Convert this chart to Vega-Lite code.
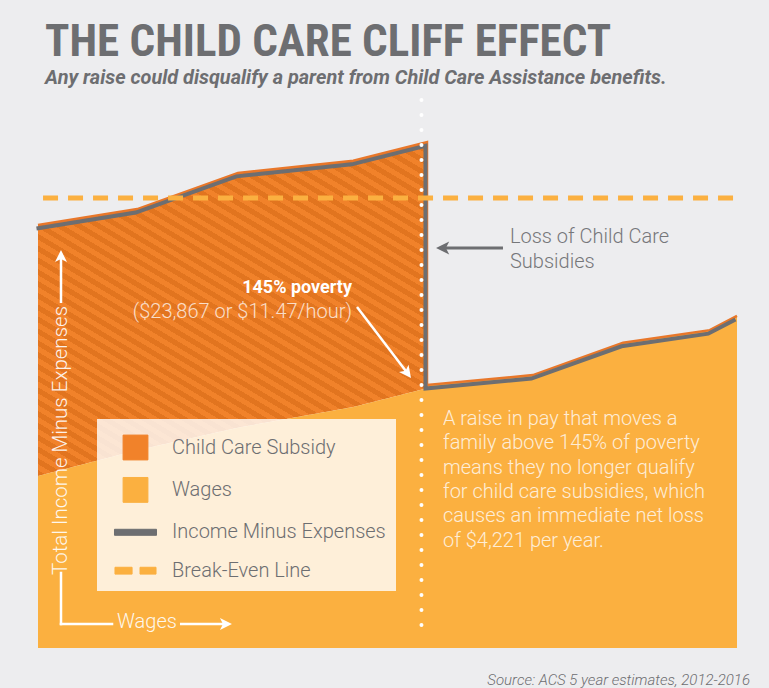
{
  "$schema": "https://vega.github.io/schema/vega-lite/v6.json",
  "width": 699,
  "height": 548,
  "autosize": {"type": "none"},
  "padding": {"left": 38, "top": 100, "right": 32, "bottom": 40},
  "background": "#ededef",
  "title": {
    "text": "THE CHILD CARE CLIFF EFFECT",
    "subtitle": "Any raise could disqualify a parent from Child Care Assistance benefits.",
    "anchor": "start",
    "frame": "group",
    "dx": 7,
    "offset": 10,
    "font": "Liberation Sans Narrow, Roboto Condensed, DejaVu Sans Condensed, sans-serif",
    "fontSize": 45,
    "fontWeight": "bold",
    "color": "#6d6e71",
    "subtitleFont": "Roboto",
    "subtitleFontSize": 19.9,
    "subtitleFontStyle": "italic",
    "subtitleFontWeight": "bold",
    "subtitleColor": "#6d6e71",
    "subtitlePadding": 3
  },
  "data": {
    "values": [
      {"step": 1, "wage": 0, "income": 77.2, "wages": 31.4, "side": "eligible"},
      {"step": 2, "wage": 14.2, "income": 80.1, "wages": 36.1, "side": "eligible"},
      {"step": 3, "wage": 28.6, "income": 86.7, "wages": 40.2, "side": "eligible"},
      {"step": 4, "wage": 45.1, "income": 88.9, "wages": 44.0, "side": "eligible"},
      {"step": 5, "wage": 55.65, "income": 92.3, "wages": 47.4, "side": "eligible"},
      {"step": 6, "wage": 55.65, "income": 48.0, "wages": 48.0, "side": "ineligible"},
      {"step": 7, "wage": 70.8, "income": 49.8, "wages": 49.8, "side": "ineligible"},
      {"step": 8, "wage": 83.7, "income": 55.7, "wages": 55.7, "side": "ineligible"},
      {"step": 9, "wage": 96.1, "income": 58.0, "wages": 58.0, "side": "ineligible"},
      {"step": 10, "wage": 100, "income": 60.6, "wages": 60.6, "side": "ineligible"}
    ]
  },
  "layer": [
    {
      "transform": [{"filter": "datum.side === 'eligible'"}],
      "mark": {"type": "area"},
      "encoding": {
        "x": {"field": "wage", "type": "quantitative", "scale": {"domain": [0, 100], "nice": false, "zero": false}},
        "y": {"field": "income", "type": "quantitative", "stack": null, "scale": {"domain": [0, 100], "nice": false}},
        "y2": {"field": "wages"},
        "color": {
          "datum": "Child Care Subsidy",
          "scale": {
            "domain": ["Child Care Subsidy", "Wages", "Income Minus Expenses", "Break-Even Line"],
            "range": ["#f1822a", "#fbb040", "#6d6e71", "#fbb040"]
          },
          "legend": {
            "orient": "none",
            "legendX": 59,
            "legendY": 319,
            "title": null,
            "fillColor": "rgba(255,255,255,0.8)",
            "padding": 10,
            "symbolSize": 1296,
            "symbolOffset": 10,
            "labelOffset": 18,
            "rowPadding": 9.4,
            "labelFont": "Roboto",
            "labelFontSize": 20,
            "labelFontWeight": 300,
            "labelColor": "#6d6e71",
            "labelLimit": 400,
            "encode": {
              "symbols": {
                "update": {
                  "shape": [
                    {"test": "datum.value === 'Income Minus Expenses'", "value": "M-1.167,-0.167H1.167V0.167H-1.167Z"},
                    {"test": "datum.value === 'Break-Even Line'", "value": "M-1.14,-0.19H-0.19V0.19H-1.14Z M0.25,-0.19H1.14V0.19H0.25Z"},
                    {"value": "M-0.69,-0.69H0.69V0.69H-0.69Z"}
                  ],
                  "fill": [
                    {"test": "datum.value === 'Income Minus Expenses'", "value": {"gradient": "linear", "x1": 0, "y1": 0, "x2": 0, "y2": 1, "stops": [{"offset": 0, "color": "#e8772a"}, {"offset": 0.3, "color": "#e8772a"}, {"offset": 0.3, "color": "#6d6e71"}, {"offset": 1, "color": "#6d6e71"}]}},
                    {"scale": "color", "field": "value"}
                  ],
                  "stroke": [
                    {"test": "datum.value === 'Child Care Subsidy'", "value": "#cf6519"},
                    {"value": "transparent"}
                  ],
                  "strokeWidth": {"value": 1},
                  "strokeDash": {"value": []},
                  "opacity": {"value": 1},
                  "fillOpacity": {"value": 1}
                }
              }
            }
          }
        }
      }
    },
    {
      "transform": [{"filter": "datum.side === 'eligible'"}],
      "mark": {
        "type": "area",
        "fill": {
          "gradient": "linear", "x1": 0, "y1": 1, "x2": 0.7982, "y2": -0.1411,
          "stops": [
            {"offset": 0, "color": "rgba(190,85,5,0.3)"}, {"offset": 0.0104, "color": "rgba(190,85,5,0.3)"}, {"offset": 0.0104, "color": "rgba(190,85,5,0)"}, {"offset": 0.0208, "color": "rgba(190,85,5,0)"},
            {"offset": 0.0208, "color": "rgba(190,85,5,0.3)"}, {"offset": 0.0313, "color": "rgba(190,85,5,0.3)"}, {"offset": 0.0313, "color": "rgba(190,85,5,0)"}, {"offset": 0.0417, "color": "rgba(190,85,5,0)"},
            {"offset": 0.0417, "color": "rgba(190,85,5,0.3)"}, {"offset": 0.0521, "color": "rgba(190,85,5,0.3)"}, {"offset": 0.0521, "color": "rgba(190,85,5,0)"}, {"offset": 0.0625, "color": "rgba(190,85,5,0)"},
            {"offset": 0.0625, "color": "rgba(190,85,5,0.3)"}, {"offset": 0.0729, "color": "rgba(190,85,5,0.3)"}, {"offset": 0.0729, "color": "rgba(190,85,5,0)"}, {"offset": 0.0833, "color": "rgba(190,85,5,0)"},
            {"offset": 0.0833, "color": "rgba(190,85,5,0.3)"}, {"offset": 0.0938, "color": "rgba(190,85,5,0.3)"}, {"offset": 0.0938, "color": "rgba(190,85,5,0)"}, {"offset": 0.1042, "color": "rgba(190,85,5,0)"},
            {"offset": 0.1042, "color": "rgba(190,85,5,0.3)"}, {"offset": 0.1146, "color": "rgba(190,85,5,0.3)"}, {"offset": 0.1146, "color": "rgba(190,85,5,0)"}, {"offset": 0.125, "color": "rgba(190,85,5,0)"},
            {"offset": 0.125, "color": "rgba(190,85,5,0.3)"}, {"offset": 0.1354, "color": "rgba(190,85,5,0.3)"}, {"offset": 0.1354, "color": "rgba(190,85,5,0)"}, {"offset": 0.1458, "color": "rgba(190,85,5,0)"},
            {"offset": 0.1458, "color": "rgba(190,85,5,0.3)"}, {"offset": 0.1563, "color": "rgba(190,85,5,0.3)"}, {"offset": 0.1563, "color": "rgba(190,85,5,0)"}, {"offset": 0.1667, "color": "rgba(190,85,5,0)"},
            {"offset": 0.1667, "color": "rgba(190,85,5,0.3)"}, {"offset": 0.1771, "color": "rgba(190,85,5,0.3)"}, {"offset": 0.1771, "color": "rgba(190,85,5,0)"}, {"offset": 0.1875, "color": "rgba(190,85,5,0)"},
            {"offset": 0.1875, "color": "rgba(190,85,5,0.3)"}, {"offset": 0.1979, "color": "rgba(190,85,5,0.3)"}, {"offset": 0.1979, "color": "rgba(190,85,5,0)"}, {"offset": 0.2083, "color": "rgba(190,85,5,0)"},
            {"offset": 0.2083, "color": "rgba(190,85,5,0.3)"}, {"offset": 0.2188, "color": "rgba(190,85,5,0.3)"}, {"offset": 0.2188, "color": "rgba(190,85,5,0)"}, {"offset": 0.2292, "color": "rgba(190,85,5,0)"},
            {"offset": 0.2292, "color": "rgba(190,85,5,0.3)"}, {"offset": 0.2396, "color": "rgba(190,85,5,0.3)"}, {"offset": 0.2396, "color": "rgba(190,85,5,0)"}, {"offset": 0.25, "color": "rgba(190,85,5,0)"},
            {"offset": 0.25, "color": "rgba(190,85,5,0.3)"}, {"offset": 0.2604, "color": "rgba(190,85,5,0.3)"}, {"offset": 0.2604, "color": "rgba(190,85,5,0)"}, {"offset": 0.2708, "color": "rgba(190,85,5,0)"},
            {"offset": 0.2708, "color": "rgba(190,85,5,0.3)"}, {"offset": 0.2813, "color": "rgba(190,85,5,0.3)"}, {"offset": 0.2813, "color": "rgba(190,85,5,0)"}, {"offset": 0.2917, "color": "rgba(190,85,5,0)"},
            {"offset": 0.2917, "color": "rgba(190,85,5,0.3)"}, {"offset": 0.3021, "color": "rgba(190,85,5,0.3)"}, {"offset": 0.3021, "color": "rgba(190,85,5,0)"}, {"offset": 0.3125, "color": "rgba(190,85,5,0)"},
            {"offset": 0.3125, "color": "rgba(190,85,5,0.3)"}, {"offset": 0.3229, "color": "rgba(190,85,5,0.3)"}, {"offset": 0.3229, "color": "rgba(190,85,5,0)"}, {"offset": 0.3333, "color": "rgba(190,85,5,0)"},
            {"offset": 0.3333, "color": "rgba(190,85,5,0.3)"}, {"offset": 0.3438, "color": "rgba(190,85,5,0.3)"}, {"offset": 0.3438, "color": "rgba(190,85,5,0)"}, {"offset": 0.3542, "color": "rgba(190,85,5,0)"},
            {"offset": 0.3542, "color": "rgba(190,85,5,0.3)"}, {"offset": 0.3646, "color": "rgba(190,85,5,0.3)"}, {"offset": 0.3646, "color": "rgba(190,85,5,0)"}, {"offset": 0.375, "color": "rgba(190,85,5,0)"},
            {"offset": 0.375, "color": "rgba(190,85,5,0.3)"}, {"offset": 0.3854, "color": "rgba(190,85,5,0.3)"}, {"offset": 0.3854, "color": "rgba(190,85,5,0)"}, {"offset": 0.3958, "color": "rgba(190,85,5,0)"},
            {"offset": 0.3958, "color": "rgba(190,85,5,0.3)"}, {"offset": 0.4063, "color": "rgba(190,85,5,0.3)"}, {"offset": 0.4063, "color": "rgba(190,85,5,0)"}, {"offset": 0.4167, "color": "rgba(190,85,5,0)"},
            {"offset": 0.4167, "color": "rgba(190,85,5,0.3)"}, {"offset": 0.4271, "color": "rgba(190,85,5,0.3)"}, {"offset": 0.4271, "color": "rgba(190,85,5,0)"}, {"offset": 0.4375, "color": "rgba(190,85,5,0)"},
            {"offset": 0.4375, "color": "rgba(190,85,5,0.3)"}, {"offset": 0.4479, "color": "rgba(190,85,5,0.3)"}, {"offset": 0.4479, "color": "rgba(190,85,5,0)"}, {"offset": 0.4583, "color": "rgba(190,85,5,0)"},
            {"offset": 0.4583, "color": "rgba(190,85,5,0.3)"}, {"offset": 0.4688, "color": "rgba(190,85,5,0.3)"}, {"offset": 0.4688, "color": "rgba(190,85,5,0)"}, {"offset": 0.4792, "color": "rgba(190,85,5,0)"},
            {"offset": 0.4792, "color": "rgba(190,85,5,0.3)"}, {"offset": 0.4896, "color": "rgba(190,85,5,0.3)"}, {"offset": 0.4896, "color": "rgba(190,85,5,0)"}, {"offset": 0.5, "color": "rgba(190,85,5,0)"},
            {"offset": 0.5, "color": "rgba(190,85,5,0.3)"}, {"offset": 0.5104, "color": "rgba(190,85,5,0.3)"}, {"offset": 0.5104, "color": "rgba(190,85,5,0)"}, {"offset": 0.5208, "color": "rgba(190,85,5,0)"},
            {"offset": 0.5208, "color": "rgba(190,85,5,0.3)"}, {"offset": 0.5313, "color": "rgba(190,85,5,0.3)"}, {"offset": 0.5313, "color": "rgba(190,85,5,0)"}, {"offset": 0.5417, "color": "rgba(190,85,5,0)"},
            {"offset": 0.5417, "color": "rgba(190,85,5,0.3)"}, {"offset": 0.5521, "color": "rgba(190,85,5,0.3)"}, {"offset": 0.5521, "color": "rgba(190,85,5,0)"}, {"offset": 0.5625, "color": "rgba(190,85,5,0)"},
            {"offset": 0.5625, "color": "rgba(190,85,5,0.3)"}, {"offset": 0.5729, "color": "rgba(190,85,5,0.3)"}, {"offset": 0.5729, "color": "rgba(190,85,5,0)"}, {"offset": 0.5833, "color": "rgba(190,85,5,0)"},
            {"offset": 0.5833, "color": "rgba(190,85,5,0.3)"}, {"offset": 0.5938, "color": "rgba(190,85,5,0.3)"}, {"offset": 0.5938, "color": "rgba(190,85,5,0)"}, {"offset": 0.6042, "color": "rgba(190,85,5,0)"},
            {"offset": 0.6042, "color": "rgba(190,85,5,0.3)"}, {"offset": 0.6146, "color": "rgba(190,85,5,0.3)"}, {"offset": 0.6146, "color": "rgba(190,85,5,0)"}, {"offset": 0.625, "color": "rgba(190,85,5,0)"},
            {"offset": 0.625, "color": "rgba(190,85,5,0.3)"}, {"offset": 0.6354, "color": "rgba(190,85,5,0.3)"}, {"offset": 0.6354, "color": "rgba(190,85,5,0)"}, {"offset": 0.6458, "color": "rgba(190,85,5,0)"},
            {"offset": 0.6458, "color": "rgba(190,85,5,0.3)"}, {"offset": 0.6563, "color": "rgba(190,85,5,0.3)"}, {"offset": 0.6563, "color": "rgba(190,85,5,0)"}, {"offset": 0.6667, "color": "rgba(190,85,5,0)"},
            {"offset": 0.6667, "color": "rgba(190,85,5,0.3)"}, {"offset": 0.6771, "color": "rgba(190,85,5,0.3)"}, {"offset": 0.6771, "color": "rgba(190,85,5,0)"}, {"offset": 0.6875, "color": "rgba(190,85,5,0)"},
            {"offset": 0.6875, "color": "rgba(190,85,5,0.3)"}, {"offset": 0.6979, "color": "rgba(190,85,5,0.3)"}, {"offset": 0.6979, "color": "rgba(190,85,5,0)"}, {"offset": 0.7083, "color": "rgba(190,85,5,0)"},
            {"offset": 0.7083, "color": "rgba(190,85,5,0.3)"}, {"offset": 0.7188, "color": "rgba(190,85,5,0.3)"}, {"offset": 0.7188, "color": "rgba(190,85,5,0)"}, {"offset": 0.7292, "color": "rgba(190,85,5,0)"},
            {"offset": 0.7292, "color": "rgba(190,85,5,0.3)"}, {"offset": 0.7396, "color": "rgba(190,85,5,0.3)"}, {"offset": 0.7396, "color": "rgba(190,85,5,0)"}, {"offset": 0.75, "color": "rgba(190,85,5,0)"},
            {"offset": 0.75, "color": "rgba(190,85,5,0.3)"}, {"offset": 0.7604, "color": "rgba(190,85,5,0.3)"}, {"offset": 0.7604, "color": "rgba(190,85,5,0)"}, {"offset": 0.7708, "color": "rgba(190,85,5,0)"},
            {"offset": 0.7708, "color": "rgba(190,85,5,0.3)"}, {"offset": 0.7813, "color": "rgba(190,85,5,0.3)"}, {"offset": 0.7813, "color": "rgba(190,85,5,0)"}, {"offset": 0.7917, "color": "rgba(190,85,5,0)"},
            {"offset": 0.7917, "color": "rgba(190,85,5,0.3)"}, {"offset": 0.8021, "color": "rgba(190,85,5,0.3)"}, {"offset": 0.8021, "color": "rgba(190,85,5,0)"}, {"offset": 0.8125, "color": "rgba(190,85,5,0)"},
            {"offset": 0.8125, "color": "rgba(190,85,5,0.3)"}, {"offset": 0.8229, "color": "rgba(190,85,5,0.3)"}, {"offset": 0.8229, "color": "rgba(190,85,5,0)"}, {"offset": 0.8333, "color": "rgba(190,85,5,0)"},
            {"offset": 0.8333, "color": "rgba(190,85,5,0.3)"}, {"offset": 0.8438, "color": "rgba(190,85,5,0.3)"}, {"offset": 0.8438, "color": "rgba(190,85,5,0)"}, {"offset": 0.8542, "color": "rgba(190,85,5,0)"},
            {"offset": 0.8542, "color": "rgba(190,85,5,0.3)"}, {"offset": 0.8646, "color": "rgba(190,85,5,0.3)"}, {"offset": 0.8646, "color": "rgba(190,85,5,0)"}, {"offset": 0.875, "color": "rgba(190,85,5,0)"},
            {"offset": 0.875, "color": "rgba(190,85,5,0.3)"}, {"offset": 0.8854, "color": "rgba(190,85,5,0.3)"}, {"offset": 0.8854, "color": "rgba(190,85,5,0)"}, {"offset": 0.8958, "color": "rgba(190,85,5,0)"},
            {"offset": 0.8958, "color": "rgba(190,85,5,0.3)"}, {"offset": 0.9063, "color": "rgba(190,85,5,0.3)"}, {"offset": 0.9063, "color": "rgba(190,85,5,0)"}, {"offset": 0.9167, "color": "rgba(190,85,5,0)"},
            {"offset": 0.9167, "color": "rgba(190,85,5,0.3)"}, {"offset": 0.9271, "color": "rgba(190,85,5,0.3)"}, {"offset": 0.9271, "color": "rgba(190,85,5,0)"}, {"offset": 0.9375, "color": "rgba(190,85,5,0)"},
            {"offset": 0.9375, "color": "rgba(190,85,5,0.3)"}, {"offset": 0.9479, "color": "rgba(190,85,5,0.3)"}, {"offset": 0.9479, "color": "rgba(190,85,5,0)"}, {"offset": 0.9583, "color": "rgba(190,85,5,0)"},
            {"offset": 0.9583, "color": "rgba(190,85,5,0.3)"}, {"offset": 0.9688, "color": "rgba(190,85,5,0.3)"}, {"offset": 0.9688, "color": "rgba(190,85,5,0)"}, {"offset": 0.9792, "color": "rgba(190,85,5,0)"},
            {"offset": 0.9792, "color": "rgba(190,85,5,0.3)"}, {"offset": 0.9896, "color": "rgba(190,85,5,0.3)"}, {"offset": 0.9896, "color": "rgba(190,85,5,0)"}, {"offset": 1, "color": "rgba(190,85,5,0)"}
          ]
        }
      },
      "encoding": {
        "x": {"field": "wage", "type": "quantitative"},
        "y": {"field": "income", "type": "quantitative", "stack": null},
        "y2": {"field": "wages"}
      }
    },
    {
      "mark": {"type": "area"},
      "encoding": {
        "x": {"field": "wage", "type": "quantitative"},
        "y": {"field": "wages", "type": "quantitative", "stack": null},
        "color": {"datum": "Wages"}
      }
    },
    {
      "mark": {"type": "line", "color": "#e8772a", "strokeWidth": 2.5},
      "encoding": {
        "x": {"field": "wage", "type": "quantitative"},
        "y": {"field": "income", "type": "quantitative"},
        "order": {"field": "step"}
      }
    },
    {
      "mark": {"type": "line", "strokeWidth": 4, "yOffset": 3.5, "xOffset": -1.5},
      "encoding": {
        "x": {"field": "wage", "type": "quantitative"},
        "y": {"field": "income", "type": "quantitative"},
        "order": {"field": "step"},
        "color": {"datum": "Income Minus Expenses"}
      }
    },
    {
      "data": {"values": [{}]},
      "mark": {"type": "rule", "strokeWidth": 5, "strokeDash": [15, 10]},
      "encoding": {
        "x": {"datum": 0.72},
        "x2": {"datum": 100.86},
        "y": {"datum": 82.1},
        "color": {"datum": "Break-Even Line"}
      }
    },
    {
      "data": {"values": [{}]},
      "mark": {"type": "rule", "color": "#ffffff", "strokeWidth": 4, "strokeDash": [0.1, 14.9], "strokeCap": "round"},
      "encoding": {
        "x": {"datum": 54.86},
        "y": {"datum": 100},
        "y2": {"datum": 2.4}
      }
    },
    {
      "data": {"values": [{}]},
      "mark": {"type": "text", "text": "145% poverty", "align": "right", "baseline": "alphabetic", "font": "Roboto", "fontSize": 18, "fontWeight": "bold", "color": "#ffffff"},
      "encoding": {"x": {"datum": 44.92}, "y": {"datum": 64.78}}
    },
    {
      "data": {"values": [{}]},
      "mark": {"type": "text", "text": "($23,867 or $11.47/hour)", "align": "right", "baseline": "alphabetic", "font": "Roboto", "fontSize": 20, "fontWeight": 300, "color": "#ffffff", "opacity": 0.75},
      "encoding": {"x": {"datum": 44.92}, "y": {"datum": 60.22}}
    },
    {
      "data": {"values": [{}]},
      "mark": {"type": "rule", "color": "#ffffff", "strokeWidth": 2.5},
      "encoding": {"x": {"datum": 45.64}, "y": {"datum": 62.23}, "x2": {"datum": 52.68}, "y2": {"datum": 50.44}}
    },
    {
      "data": {"values": [{}]},
      "mark": {"type": "point", "shape": "M0,0L-1.2,-2.4L0,-1.8L1.2,-2.4Z", "filled": true, "size": 100, "angle": 323, "color": "#ffffff", "opacity": 1},
      "encoding": {"x": {"datum": 53.36}, "y": {"datum": 49.27}}
    },
    {
      "data": {"values": [{}]},
      "mark": {"type": "rule", "color": "#6d6e71", "strokeWidth": 3},
      "encoding": {"x": {"datum": 66.52}, "x2": {"datum": 57.94}, "y": {"datum": 72.99}}
    },
    {
      "data": {"values": [{}]},
      "mark": {"type": "point", "shape": "M0,0L-1.2,-2.4L0,-1.8L1.2,-2.4Z", "filled": true, "size": 121, "angle": 90, "color": "#6d6e71", "opacity": 1},
      "encoding": {"x": {"datum": 56.94}, "y": {"datum": 72.99}}
    },
    {
      "data": {"values": [{}]},
      "mark": {"type": "text", "text": ["Loss of Child Care", "Subsidies"], "lineHeight": 25, "align": "left", "baseline": "alphabetic", "font": "Roboto", "fontSize": 20, "fontWeight": 300, "color": "#76777a"},
      "encoding": {"x": {"datum": 67.52}, "y": {"datum": 73.91}}
    },
    {
      "data": {"values": [{}]},
      "mark": {"type": "text", "text": ["A raise in pay that moves a", "family above 145% of poverty", "means they no longer qualify", "for child care subsidies, which", "causes an immediate net loss", "of $4,221 per year."], "lineHeight": 24.3, "align": "left", "baseline": "alphabetic", "font": "Roboto", "fontSize": 20, "fontWeight": 300, "color": "#ffffff", "opacity": 0.78},
      "encoding": {"x": {"datum": 57.94}, "y": {"datum": 40.69}}
    },
    {
      "data": {"values": [{}]},
      "mark": {"type": "text", "text": "Total Income Minus Expenses", "angle": 270, "align": "left", "baseline": "alphabetic", "font": "Roboto", "fontSize": 20.5, "fontWeight": 300, "color": "#ffffff", "opacity": 0.9},
      "encoding": {"x": {"datum": 4.1}, "y": {"datum": 13.32}}
    },
    {
      "data": {"values": [{}]},
      "mark": {"type": "rule", "color": "#ffffff", "strokeWidth": 2.5},
      "encoding": {"x": {"datum": 3.29}, "y": {"datum": 62.96}, "y2": {"datum": 71.17}}
    },
    {
      "data": {"values": [{}]},
      "mark": {"type": "point", "shape": "M0,0L-1.2,-2.4L0,-1.8L1.2,-2.4Z", "filled": true, "size": 100, "angle": 180, "color": "#ffffff", "opacity": 1},
      "encoding": {"x": {"datum": 3.29}, "y": {"datum": 72.63}}
    },
    {
      "data": {"values": [{}]},
      "mark": {"type": "rule", "color": "#ffffff", "strokeWidth": 2.5, "strokeCap": "square"},
      "encoding": {"x": {"datum": 3.29}, "y": {"datum": 13.69}, "y2": {"datum": 4.38}}
    },
    {
      "data": {"values": [{}]},
      "mark": {"type": "rule", "color": "#ffffff", "strokeWidth": 2.5, "strokeCap": "square"},
      "encoding": {"x": {"datum": 3.29}, "x2": {"datum": 10.59}, "y": {"datum": 4.38}}
    },
    {
      "data": {"values": [{}]},
      "mark": {"type": "text", "text": "Wages", "align": "left", "baseline": "alphabetic", "font": "Roboto", "fontSize": 20, "fontWeight": 300, "color": "#ffffff", "opacity": 0.9},
      "encoding": {"x": {"datum": 11.3}, "y": {"datum": 3.65}}
    },
    {
      "data": {"values": [{}]},
      "mark": {"type": "rule", "color": "#ffffff", "strokeWidth": 2.5},
      "encoding": {"x": {"datum": 20.31}, "x2": {"datum": 26.61}, "y": {"datum": 4.38}}
    },
    {
      "data": {"values": [{}]},
      "mark": {"type": "point", "shape": "M0,0L-1.2,-2.4L0,-1.8L1.2,-2.4Z", "filled": true, "size": 100, "angle": 270, "color": "#ffffff", "opacity": 1},
      "encoding": {"x": {"datum": 27.75}, "y": {"datum": 4.38}}
    },
    {
      "data": {"values": [{}]},
      "mark": {"type": "text", "text": "Source: ACS 5 year estimates, 2012-2016", "align": "right", "baseline": "alphabetic", "font": "Roboto", "fontSize": 15, "fontStyle": "italic", "fontWeight": 300, "color": "#6d6e71"},
      "encoding": {"x": {"datum": 101.86}, "y": {"datum": -6.75}}
    }
  ],
  "config": {
    "view": {"stroke": null},
    "axis": {"disable": true}
  }
}
